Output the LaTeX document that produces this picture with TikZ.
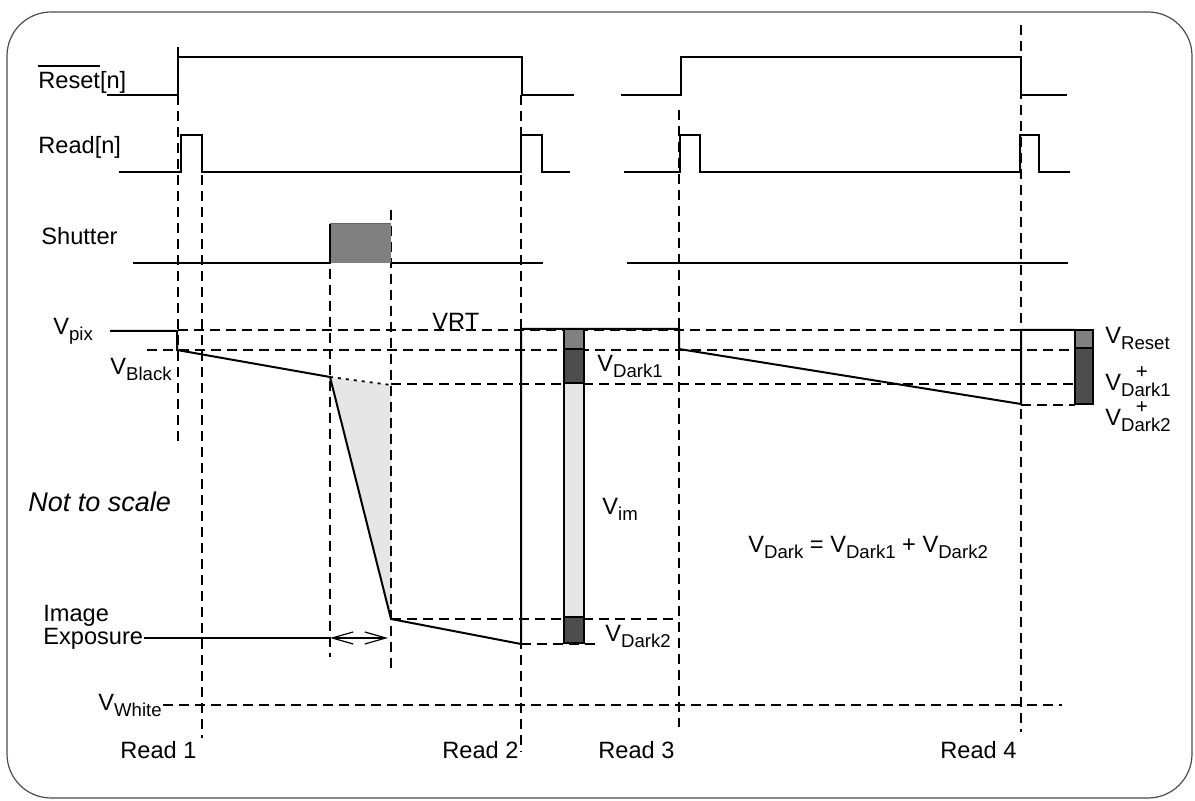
\documentclass[tikz,border=0pt]{standalone}
\usepackage{fontspec}
\setmainfont{Liberation Sans}
\usetikzlibrary{arrows.meta}
\definecolor{midgrey}{HTML}{808080}
\definecolor{darkgrey}{HTML}{4D4D4D}
\definecolor{lightgrey}{HTML}{E6E6E6}
\newcommand{\Vsub}[1]{V\raisebox{-2.6pt}{\fontsize{9.3}{11}\selectfont #1}}
\newcommand{\Vplus}[1]{V\raisebox{-2.6pt}{\rlap{\hspace{7.4pt}\raisebox{8.6pt}{\fontsize{10.3}{11}\selectfont +}}\fontsize{9.3}{11}\selectfont #1}}
\newcommand{\ovl}[1]{\setbox0\hbox{#1}\rlap{\rule[11pt]{\wd0}{0.9pt}}#1}

\begin{document}
\begin{tikzpicture}[x=0.5pt,y=-0.5pt,font=\fontsize{11.8}{13}\selectfont,
  sig/.style={line width=1pt},
  guide/.style={line width=0.9pt,dash pattern=on 5pt off 3pt},
  txt/.style={anchor=base west,inner sep=0pt},
  bar/.style={draw,line width=0.9pt}]
  \useasboundingbox (0,0) rectangle (1195,801);
  \draw[black!70,line width=0.6pt,rounded corners=22pt] (7,12) rectangle (1192,798);
  % exposure wedge
  \fill[lightgrey] (330,377)--(391,385)--(391,619)--cycle;
  % guide lines
  \foreach \x/\ya/\yb in {178/47/445,202/175/738,330/269/657,391/210/668,521/95/752,679/110/727,1021/25/732}
    \draw[guide] (\x,\ya)--(\x,\yb);
  \foreach \y/\xa/\xb in {330/178/1021,350/147/1075,384/391/1075,405/1021/1075,619/391/679,644/521/596,705/163/1062}
    \draw[guide] (\xa,\y)--(\xb,\y);
  \draw[line width=0.9pt,dash pattern=on 1.5pt off 2.5pt] (330,377)--(391,385);
  % signal names
  \node[txt] (reset)   at (38,89)  {\ovl{Reset}[n]};
  \node[txt] (read)    at (38,154) {Read[n]};
  \node[txt] (shutter) at (41,245) {Shutter};
  % Reset, Read, Shutter
  \draw[sig] (107,95)--(178,95)--(178,57)--(522,57)--(522,95)--(574,95);
  \draw[sig] (621,95)--(681,95)--(681,57)--(1021,57)--(1021,95)--(1067,95);
  \draw[sig] (119,172)--(181,172)--(181,135)--(202,135)--(202,172)--(521,172)--(521,135)--(542,135)--(542,172)--(570,172);
  \draw[sig] (624,172)--(680,172)--(680,135)--(700,135)--(700,172)--(1020,172)--(1020,135)--(1039,135)--(1039,172)--(1070,172);
  \fill[midgrey] (330,224) rectangle (391,263);
  \draw[sig] (133,263)--(330,263)--(330,224);
  \draw[line width=0.5pt,black!60] (330,224)--(391,224);
  \draw[sig] (391,263)--(543,263);
  \draw[sig] (627,263)--(1068,263);
  % pixel voltage
  \draw[sig] (110,331)--(177,331)--(177,350)--(330,377)--(391,619)--(521,644)--(521,329)
    --(679,329)--(679,349)--(1021,404)--(1021,330)--(1075,330);
  % read-out bars
  \foreach \ya/\yb/\col in {329/349/midgrey,349/383/darkgrey,383/617/lightgrey,617/643/darkgrey}
    \draw[bar,fill=\col] (564,\ya) rectangle (584,\yb);
  \foreach \ya/\yb/\col in {330/348/midgrey,348/404/darkgrey}
    \draw[bar,fill=\col] (1075,\ya) rectangle (1093,\yb);
  % voltage labels
  \node[txt] (vpix)   at (53,335)  {\Vsub{pix}};
  \node[txt] (vblack) at (110,375) {\Vsub{Black}};
  \node[txt] (vrt)    at (432,330) {VRT};
  \node[txt] (vdarka) at (597,372) {\Vsub{Dark1}};
  \node[txt] (vim)    at (602,515) {\Vsub{im}};
  \node[txt] (vdarkb) at (605,642) {\Vsub{Dark2}};
  \node[txt] (vwhite) at (98,711)  {\Vsub{White}};
  \node[txt] (vdark)  at (748,553) {\Vsub{Dark} = \Vsub{Dark1} + \Vsub{Dark2}};
  \node[txt,font=\fontsize{13.5}{16}\selectfont\itshape] (noscale) at (28,512) {Not to scale};
  % right hand sum
  \node[txt] (vreset)  at (1105,344) {\Vsub{Reset}};
  \node[txt] (vdarkra) at (1105,391) {\Vplus{Dark1}};
  \node[txt] (vdarkrb) at (1105,426) {\Vplus{Dark2}};
  % exposure marker
  \node[txt] (image)    at (43,622) {Image};
  \node[txt] (exposure) at (43,645) {Exposure};
  \coordinate (expl) at (330,638);
  \coordinate (expr) at (388,638);
  \draw[sig] (exposure.east |- expl)--(expl);
  \draw[line width=0.6pt,{Straight Barb[length=10.5pt,width=6pt]}-{Straight Barb[length=10.5pt,width=6pt]}] (expl)--(expr);
  % read instants
  \foreach \x/\n in {120/1,442/2,598/3,940/4}
    \node[txt] (read\n) at (\x,759) {Read \n};
\end{tikzpicture}
\end{document}
